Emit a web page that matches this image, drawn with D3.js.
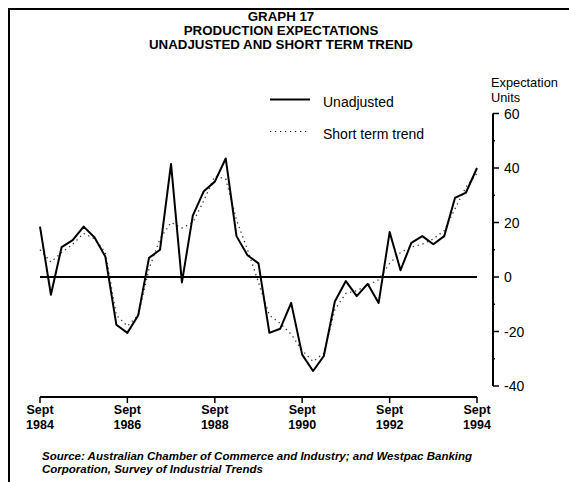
<!DOCTYPE html>
<html>
<head>
<meta charset="utf-8">
<script src="https://cdn.jsdelivr.net/npm/d3@7"></script>
<style>
  body { margin: 0; background: #fff; }
  svg { display: block; font-family: "Liberation Sans", Arial, Helvetica, sans-serif; }
</style>
</head>
<body>
<svg id="chart" width="569" height="482"></svg>
<script>
// Quarterly survey readings, Sept 1984 .. Sept 1994
const startYear = 1984;
const unadjusted = [18.5, -6.5, 11, 13.5, 18.5, 14.5, 7.5, -17.5, -20.5, -14, 7, 10,
    41.5, -2, 22.5, 31.5, 35, 43.5, 15, 8, 5, -20.5, -19, -9.5,
    -28.5, -34.5, -29, -9, -1.5, -7, -2.5, -9.5, 16.5, 2.5, 12.5, 15,
    12, 15, 29, 31, 40];
const trend = [10, 5.5, 9, 12, 16, 14, 9, -14, -18, -14, 3, 14,
    20, 18, 20, 28, 37, 36, 21, 10, -2, -14, -17, -21,
    -27, -31, -28, -12, -6, -5, -3, -1, 5, 9, 11, 12,
    14, 17, 25, 33, 38];
const yTicks = [-40, -20, 0, 20, 40, 60];
const yMinor = [-30, -10, 10, 30, 50];
const xTickYears = [1984, 1986, 1988, 1990, 1992, 1994];
const titleLines = ["GRAPH 17", "PRODUCTION EXPECTATIONS", "UNADJUSTED AND SHORT TERM TREND"];
const legendItems = [
    { label: "Unadjusted", dash: null },
    { label: "Short term trend", dash: "1.2,3.8" }
];
const unitLines = ["Expectation", "Units"];
const sourceLines = [
    "Source: Australian Chamber of Commerce and Industry; and Westpac Banking",
    "Corporation, Survey of Industrial Trends"
];

// quarter index -> date (Sept of start year + 3 months per step)
const toDate = i => new Date(startYear, 8 + 3 * i, 1);

const svg = d3.select("#chart");

// frame (scanned page border, left and top only)
svg.append("path")
    .attr("d", "M9,482V9H569")
    .attr("fill", "none")
    .attr("stroke", "#000")
    .attr("stroke-width", 2);

// scales
const x = d3.scaleTime()
    .domain([toDate(0), toDate(40)])
    .range([40, 477]);
const y = d3.scaleLinear()
    .domain([-40, 60])
    .range([386, 113.5]);

// title
svg.append("g")
    .selectAll("text")
    .data(titleLines)
    .join("text")
    .attr("x", 281)
    .attr("y", (d, i) => 20.5 + i * 14)
    .attr("text-anchor", "middle")
    .attr("font-size", 13.3)
    .attr("font-weight", "bold")
    .text(d => d);

// legend
const legend = svg.append("g");
legend.selectAll("line")
    .data(legendItems)
    .join("line")
    .attr("x1", 270).attr("x2", 310)
    .attr("y1", (d, i) => 99.5 + i * 32).attr("y2", (d, i) => 99.5 + i * 32)
    .attr("stroke", "#000")
    .attr("stroke-width", d => d.dash ? 1.2 : 2)
    .attr("stroke-dasharray", d => d.dash);
legend.selectAll("text")
    .data(legendItems)
    .join("text")
    .attr("x", 323)
    .attr("y", (d, i) => 107 + i * 32)
    .attr("font-size", 14)
    .text(d => d.label);

// right axis title
svg.append("g")
    .selectAll("text")
    .data(unitLines)
    .join("text")
    .attr("x", 491)
    .attr("y", (d, i) => 87 + i * 14.5)
    .attr("font-size", 12.8)
    .text(d => d);

// y axis on the right
const axisX = 493;
const gy = svg.append("g").attr("stroke", "#000");
gy.append("line")
    .attr("x1", axisX).attr("x2", axisX)
    .attr("y1", y(60)).attr("y2", y(-40))
    .attr("stroke-width", 2);
gy.selectAll(".major")
    .data(yTicks)
    .join("line")
    .attr("class", "major")
    .attr("x1", axisX).attr("x2", axisX + 6)
    .attr("y1", d => y(d)).attr("y2", d => y(d))
    .attr("stroke-width", 1.5);
gy.selectAll(".minor")
    .data(yMinor)
    .join("line")
    .attr("class", "minor")
    .attr("x1", axisX).attr("x2", axisX + 2)
    .attr("y1", d => y(d)).attr("y2", d => y(d))
    .attr("stroke-width", 1.5);
svg.append("g")
    .selectAll("text")
    .data(yTicks)
    .join("text")
    .attr("x", 504)
    .attr("y", d => y(d) + 5)
    .attr("font-size", 14)
    .text(d => d < 0 ? "-" + Math.abs(d) : d);

// x axis at the bottom
const axisY = 397;
const gx = svg.append("g").attr("stroke", "#000");
gx.append("line")
    .attr("x1", x(toDate(0))).attr("x2", x(toDate(40)))
    .attr("y1", axisY).attr("y2", axisY)
    .attr("stroke-width", 2);
gx.selectAll(".tick")
    .data(xTickYears)
    .join("line")
    .attr("class", "tick")
    .attr("x1", d => x(new Date(d, 8, 1))).attr("x2", d => x(new Date(d, 8, 1)))
    .attr("y1", axisY).attr("y2", axisY + 6)
    .attr("stroke-width", 1.5);
const xl = svg.append("g")
    .selectAll("g")
    .data(xTickYears)
    .join("g")
    .attr("transform", d => `translate(${x(new Date(d, 8, 1))},0)`)
    .attr("text-anchor", "middle")
    .attr("font-size", 12.5)
    .attr("font-weight", "bold");
xl.append("text").attr("y", 414).text("Sept");
xl.append("text").attr("y", 428.5).text(d => d);

// zero line
svg.append("line")
    .attr("x1", x(toDate(0))).attr("x2", x(toDate(40)))
    .attr("y1", y(0)).attr("y2", y(0))
    .attr("stroke", "#000")
    .attr("stroke-width", 2);

// series
const line = d3.line()
    .x((d, i) => x(toDate(i)))
    .y(d => y(d));

svg.append("path")
    .datum(trend)
    .attr("fill", "none")
    .attr("stroke", "#333")
    .attr("stroke-width", 1.3)
    .attr("stroke-dasharray", "1.3,3.7")
    .attr("d", line);

svg.append("path")
    .datum(unadjusted)
    .attr("fill", "none")
    .attr("stroke", "#000")
    .attr("stroke-width", 2)
    .attr("stroke-linejoin", "round")
    .attr("d", line);

// source note
svg.append("g")
    .selectAll("text")
    .data(sourceLines)
    .join("text")
    .attr("x", 42)
    .attr("y", (d, i) => 460 + i * 13)
    .attr("font-size", 11.5)
    .attr("font-style", "italic")
    .attr("font-weight", "bold")
    .text(d => d);
</script>
</body>
</html>
